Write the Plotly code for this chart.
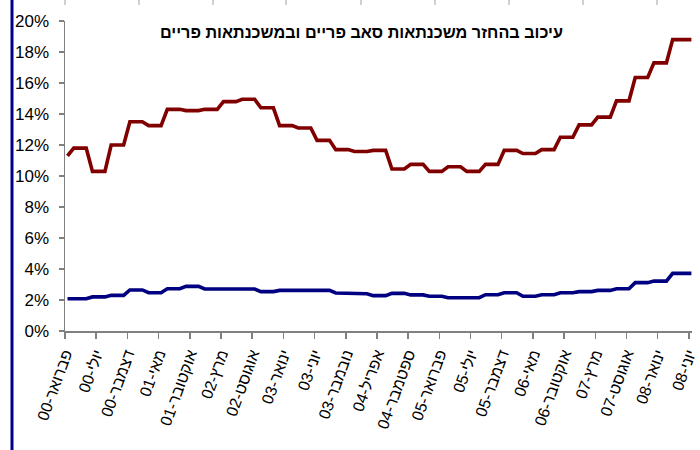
import plotly.graph_objects as go

# month index 0 = Feb 2000 ... 100 = Jun 2008
months = list(range(101))

subprime = [
    11.3, 11.8, 11.8, 11.8, 10.3, 10.3, 10.3, 12.0, 12.0, 12.0,
    13.5, 13.5, 13.5, 13.25, 13.25, 13.25, 14.3, 14.3, 14.3, 14.22,
    14.22, 14.22, 14.3, 14.3, 14.3, 14.8, 14.8, 14.8, 14.95, 14.95,
    14.95, 14.4, 14.4, 14.4, 13.25, 13.25, 13.25, 13.1, 13.1, 13.1,
    12.3, 12.3, 12.3, 11.7, 11.7, 11.7, 11.58, 11.58, 11.58, 11.65,
    11.65, 11.65, 10.45, 10.45, 10.45, 10.75, 10.75, 10.75, 10.3, 10.3,
    10.3, 10.6, 10.6, 10.6, 10.3, 10.3, 10.3, 10.75, 10.75, 10.75,
    11.65, 11.65, 11.65, 11.45, 11.45, 11.45, 11.7, 11.7, 11.7, 12.5,
    12.5, 12.5, 13.3, 13.3, 13.3, 13.8, 13.8, 13.8, 14.85, 14.85,
    14.85, 16.35, 16.35, 16.35, 17.3, 17.3, 17.3, 18.8, 18.8, 18.8,
    18.8,
]

prime = [
    2.08, 2.08, 2.08, 2.08, 2.2, 2.2, 2.2, 2.3, 2.3, 2.3,
    2.65, 2.65, 2.65, 2.47, 2.47, 2.47, 2.73, 2.73, 2.73, 2.88,
    2.88, 2.88, 2.71, 2.71, 2.71, 2.71, 2.71, 2.71, 2.71, 2.71,
    2.71, 2.54, 2.54, 2.54, 2.62, 2.62, 2.62, 2.62, 2.62, 2.62,
    2.62, 2.62, 2.62, 2.45, 2.45, 2.45, 2.4, 2.4, 2.4, 2.28,
    2.28, 2.28, 2.43, 2.43, 2.43, 2.33, 2.33, 2.33, 2.24, 2.24,
    2.24, 2.15, 2.15, 2.15, 2.15, 2.15, 2.15, 2.34, 2.34, 2.34,
    2.47, 2.47, 2.47, 2.24, 2.24, 2.24, 2.34, 2.34, 2.34, 2.47,
    2.47, 2.47, 2.54, 2.54, 2.54, 2.62, 2.62, 2.62, 2.73, 2.73,
    2.73, 3.12, 3.12, 3.12, 3.22, 3.22, 3.22, 3.72, 3.72, 3.72,
    3.72,
]

tick_labels = [
    "פברואר-00", "יולי-00", "דצמבר-00", "מאי-01", "אוקטובר-01", "מרץ-02",
    "אוגוסט-02", "ינואר-03", "יוני-03", "נובמבר-03", "אפריל-04", "ספטמבר-04",
    "פברואר-05", "יולי-05", "דצמבר-05", "מאי-06", "אוקטובר-06", "מרץ-07",
    "אוגוסט-07", "ינואר-08", "יוני-08",
]
tick_months = list(range(0, 101, 5))

y_ticks = [0, 2, 4, 6, 8, 10, 12, 14, 16, 18, 20]

title_text = "עיכוב בהחזר משכנתאות סאב פריים ובמשכנתאות פריים"

fig = go.Figure()
fig.add_trace(go.Scatter(x=months, y=subprime, mode="lines",
                         line=dict(color="#800000", width=3.6), hoverinfo="skip"))
fig.add_trace(go.Scatter(x=months, y=prime, mode="lines",
                         line=dict(color="#000080", width=3.6), hoverinfo="skip"))

W, H = 700, 450
L, R, T, B = 65, 8, 21, 119
pw, ph = W - L - R, H - T - B

def px(xp):
    return (xp - L) / pw

def py(yp):
    return (H - B - yp) / ph

shapes = []
# left blue border line
shapes.append(dict(type="line", xref="paper", yref="paper",
                   x0=px(12), x1=px(12), y0=py(0), y1=py(450),
                   line=dict(color="#00008B", width=3)))
# short gray marks at the top edge
for xp in [65, 139, 213, 286, 361, 435, 509, 583, 657]:
    shapes.append(dict(type="line", xref="paper", yref="paper",
                       x0=px(xp), x1=px(xp), y0=py(0), y1=py(5),
                       line=dict(color="#A0A0A0", width=1)))

fig.update_layout(
    width=W, height=H,
    margin=dict(l=L, r=R, t=T, b=B, pad=0, autoexpand=False),
    paper_bgcolor="white", plot_bgcolor="white",
    showlegend=False, hovermode=False,
    font=dict(family="Liberation Sans, Arial, sans-serif", color="black"),
    shapes=shapes,
    annotations=[dict(text="<b>" + title_text + "</b>", xref="paper", yref="paper",
                      x=px(361), y=py(32), xanchor="center", yanchor="middle",
                      showarrow=False, font=dict(size=16.2, color="black"))],
)
fig.update_xaxes(
    range=[-0.4, 100.1], tickmode="array",
    tickvals=[m - 0.4 for m in tick_months], ticktext=tick_labels,
    tickangle=-70, tickfont=dict(size=16),
    showline=True, linecolor="#808080", linewidth=1.5,
    ticks="outside", ticklen=6, tickcolor="#808080", tickwidth=1.5,
    showgrid=False, zeroline=False, automargin=False,
)
fig.update_yaxes(
    range=[0, 20], tickmode="array", tickvals=y_ticks,
    ticktext=[f"{v}%" for v in y_ticks], tickfont=dict(size=17),
    showline=True, linecolor="#808080", linewidth=1.5,
    ticks="outside", ticklen=5, tickcolor="#808080", tickwidth=1.5,
    ticklabelstandoff=6,
    showgrid=False, zeroline=False, automargin=False,
)

fig.write_html(
    "out.html",
    config={"displayModeBar": False, "staticPlot": True},
    post_script="document.body.style.margin='0';document.body.style.padding='0';"
                "document.body.style.overflow='hidden';",
)
